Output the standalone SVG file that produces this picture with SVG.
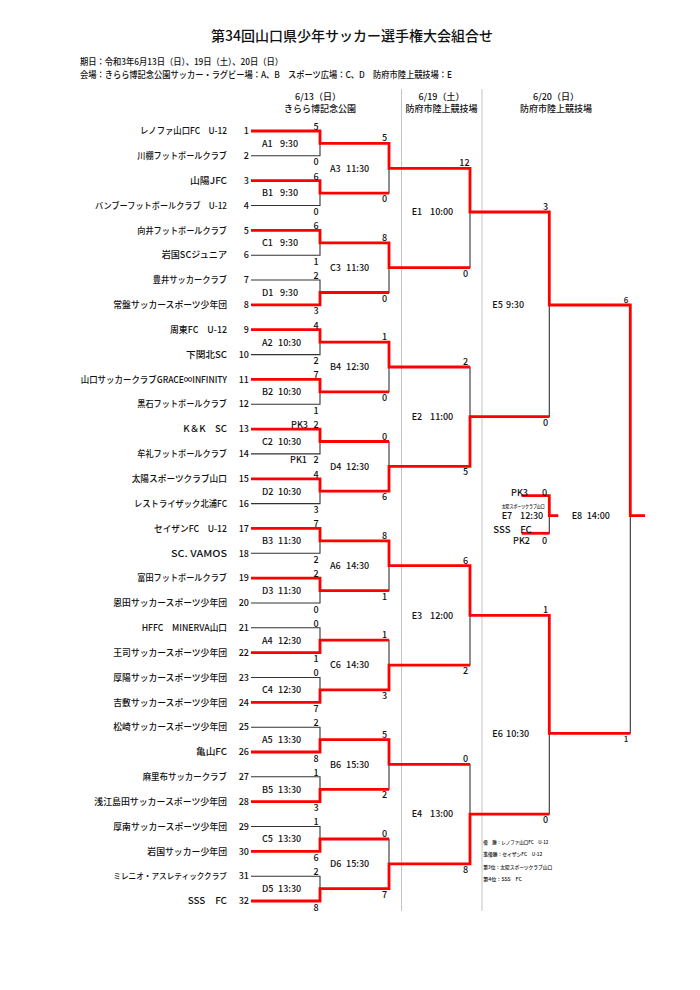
<svg xmlns="http://www.w3.org/2000/svg" width="700" height="990" viewBox="0 0 700 990">
<style>
text{font-family:"Noto Sans CJK JP","Liberation Sans",sans-serif;fill:#111;font-size:9px;font-weight:500}
.e{text-anchor:end}
.m{text-anchor:middle}
.bk{fill:none;stroke:#333;stroke-width:1.1}
.rd{fill:none;stroke:#ff0000;stroke-width:2.8;stroke-linejoin:miter}
.col{stroke:#c4c4c4;stroke-width:1}
.s8{font-size:8px}
.tiny{font-size:5px}
</style>
<rect width="700" height="990" fill="#fff"/>
<g id="header">
<text x="352" y="41" class="m" style="font-size:14px">第34回山口県少年サッカー選手権大会組合せ</text>
<text x="80" y="65.3" textLength="203" lengthAdjust="spacingAndGlyphs">期日：令和3年6月13日（日）、19日（土）、20日（日）</text>
<text x="80" y="78.3" textLength="372" lengthAdjust="spacingAndGlyphs">会場：きらら博記念公園サッカー・ラグビー場：A、B　スポーツ広場：C、D　防府市陸上競技場：E</text>
<text x="318" y="100" class="m">6/13（日）</text>
<text x="320" y="111.5" class="m">きらら博記念公園</text>
<text x="441.5" y="100" class="m">6/19（土）</text>
<text x="441.5" y="111.5" class="m">防府市陸上競技場</text>
<text x="556" y="100" class="m">6/20（日）</text>
<text x="556" y="111.5" class="m">防府市陸上競技場</text>
</g>
<g id="columns">
<line class="col" x1="401.5" y1="89" x2="401.5" y2="911"/>
<line class="col" x1="482" y1="89" x2="482" y2="911"/>
</g>
<g id="connectors">
<path class="bk" d="M251 131H320V155.8H251M251 180.7H320V205.5H251M251 230.4H320V255.2H251M251 280H320V304.9H251M251 329.7H320V354.6H251M251 379.4H320V404.2H251M251 429.1H320V453.9H251M251 478.8H320V503.6H251M251 528.4H320V553.3H251M251 578.1H320V603H251M251 627.8H320V652.6H251M251 677.5H320V702.3H251M251 727.2H320V752H251M251 776.8H320V801.7H251M251 826.5H320V851.4H251M251 876.2H320V901H251"/>
<path class="bk" d="M320 143.4H389V193.1H320M320 242.8H389V292.5H320M320 342.2H389V391.8H320M320 441.5H389V491.2H320M320 540.9H389V590.6H320M320 640.2H389V689.9H320M320 739.6H389V789.3H320M320 839H389V888.6H320"/>
<path class="bk" d="M389 168.3H470V267.7H389M389 367H470V466.4H389M389 565.7H470V665.1H389M389 764.4H470V863.8H389"/>
<path class="bk" d="M470 212H549.3V416.7H470M470 615.4H549.3V814.1H470"/>
<path class="bk" d="M549.3 305H630.3V733.3H549.3"/>
<path class="bk" d="M521.7 495.7H549.3V533.3H521.7"/>
<path class="rd" d="M251 131H320V143.4H389V168.3H470V212H549.3V305H630.3V515.7H645"/>
<path class="rd" d="M251 180.7H320V193.1H389"/>
<path class="rd" d="M251 230.4H320V242.8H389V267.7H470"/>
<path class="rd" d="M251 304.9H320V292.5H389"/>
<path class="rd" d="M251 329.7H320V342.2H389V367H470"/>
<path class="rd" d="M251 379.4H320V391.8H389"/>
<path class="rd" d="M251 429.1H320V441.5H389"/>
<path class="rd" d="M251 478.8H320V491.2H389V466.4H470V416.7H549.3"/>
<path class="rd" d="M251 528.4H320V540.9H389V565.7H470V615.4H549.3V733.3H630.3"/>
<path class="rd" d="M251 578.1H320V590.6H389"/>
<path class="rd" d="M251 652.6H320V640.2H389"/>
<path class="rd" d="M251 702.3H320V689.9H389V665.1H470"/>
<path class="rd" d="M251 752H320V739.6H389V764.4H470"/>
<path class="rd" d="M251 801.7H320V789.3H389"/>
<path class="rd" d="M251 851.4H320V839H389"/>
<path class="rd" d="M251 901H320V888.6H389V863.8H470V814.1H549.3"/>
<path class="rd" d="M521.7 495.7H549.3V515.7H558.3"/>
<path class="rd" d="M521.7 533.3H549.3"/>
</g>
<g id="team-01"><text class="e" x="227" y="134.2" textLength="87" lengthAdjust="spacingAndGlyphs">レノファ山口FC　U-12</text><text class="e" x="249" y="134.2">1</text></g>
<g id="team-02"><text class="e" x="227" y="159" textLength="89.7" lengthAdjust="spacingAndGlyphs">川棚フットボールクラブ</text><text class="e" x="249" y="159">2</text></g>
<g id="team-03"><text class="e" x="227" y="183.9" textLength="37" lengthAdjust="spacingAndGlyphs">山陽JFC</text><text class="e" x="249" y="183.9">3</text></g>
<g id="team-04"><text class="e" x="227" y="208.7" textLength="132" lengthAdjust="spacingAndGlyphs" style="font-size:8.6px">バンブーフットボールクラブ　U-12</text><text class="e" x="249" y="208.7">4</text></g>
<g id="team-05"><text class="e" x="227" y="233.6" textLength="89.7" lengthAdjust="spacingAndGlyphs">向井フットボールクラブ</text><text class="e" x="249" y="233.6">5</text></g>
<g id="team-06"><text class="e" x="227" y="258.4" textLength="65.3" lengthAdjust="spacingAndGlyphs">岩国SCジュニア</text><text class="e" x="249" y="258.4">6</text></g>
<g id="team-07"><text class="e" x="227" y="283.2" textLength="74.3" lengthAdjust="spacingAndGlyphs">豊井サッカークラブ</text><text class="e" x="249" y="283.2">7</text></g>
<g id="team-08"><text class="e" x="227" y="308.1" textLength="113.7" lengthAdjust="spacingAndGlyphs">常盤サッカースポーツ少年団</text><text class="e" x="249" y="308.1">8</text></g>
<g id="team-09"><text class="e" x="227" y="332.9" textLength="57" lengthAdjust="spacingAndGlyphs">周東FC　U-12</text><text class="e" x="249" y="332.9">9</text></g>
<g id="team-10"><text class="e" x="227" y="357.8" textLength="41" lengthAdjust="spacingAndGlyphs">下関北SC</text><text class="e" x="249" y="357.8">10</text></g>
<g id="team-11"><text class="e" x="227" y="382.6" textLength="146.3" lengthAdjust="spacingAndGlyphs">山口サッカークラブGRACE∞INFINITY</text><text class="e" x="249" y="382.6">11</text></g>
<g id="team-12"><text class="e" x="227" y="407.4" textLength="89.7" lengthAdjust="spacingAndGlyphs">黒石フットボールクラブ</text><text class="e" x="249" y="407.4">12</text></g>
<g id="team-13"><text class="e" x="227" y="432.3" textLength="43.7" lengthAdjust="spacingAndGlyphs">K＆K　SC</text><text class="e" x="249" y="432.3">13</text></g>
<g id="team-14"><text class="e" x="227" y="457.1" textLength="89.7" lengthAdjust="spacingAndGlyphs">牟礼フットボールクラブ</text><text class="e" x="249" y="457.1">14</text></g>
<g id="team-15"><text class="e" x="227" y="482" textLength="95.3" lengthAdjust="spacingAndGlyphs">太陽スポーツクラブ山口</text><text class="e" x="249" y="482">15</text></g>
<g id="team-16"><text class="e" x="227" y="506.8" textLength="93" lengthAdjust="spacingAndGlyphs">レストライザック北浦FC</text><text class="e" x="249" y="506.8">16</text></g>
<g id="team-17"><text class="e" x="227" y="531.6" textLength="73" lengthAdjust="spacingAndGlyphs">セイザンFC　U-12</text><text class="e" x="249" y="531.6">17</text></g>
<g id="team-18"><text class="e" x="227" y="556.5" textLength="56" lengthAdjust="spacingAndGlyphs">SC. VAMOS</text><text class="e" x="249" y="556.5">18</text></g>
<g id="team-19"><text class="e" x="227" y="581.3" textLength="89.7" lengthAdjust="spacingAndGlyphs">富田フットボールクラブ</text><text class="e" x="249" y="581.3">19</text></g>
<g id="team-20"><text class="e" x="227" y="606.2" textLength="113.7" lengthAdjust="spacingAndGlyphs">恩田サッカースポーツ少年団</text><text class="e" x="249" y="606.2">20</text></g>
<g id="team-21"><text class="e" x="227" y="631" textLength="85.3" lengthAdjust="spacingAndGlyphs">HFFC　MINERVA山口</text><text class="e" x="249" y="631">21</text></g>
<g id="team-22"><text class="e" x="227" y="655.8" textLength="113.7" lengthAdjust="spacingAndGlyphs">王司サッカースポーツ少年団</text><text class="e" x="249" y="655.8">22</text></g>
<g id="team-23"><text class="e" x="227" y="680.7" textLength="113.7" lengthAdjust="spacingAndGlyphs">厚陽サッカースポーツ少年団</text><text class="e" x="249" y="680.7">23</text></g>
<g id="team-24"><text class="e" x="227" y="705.5" textLength="113.7" lengthAdjust="spacingAndGlyphs">吉敷サッカースポーツ少年団</text><text class="e" x="249" y="705.5">24</text></g>
<g id="team-25"><text class="e" x="227" y="730.4" textLength="113.7" lengthAdjust="spacingAndGlyphs">松崎サッカースポーツ少年団</text><text class="e" x="249" y="730.4">25</text></g>
<g id="team-26"><text class="e" x="227" y="755.2" textLength="31" lengthAdjust="spacingAndGlyphs">亀山FC</text><text class="e" x="249" y="755.2">26</text></g>
<g id="team-27"><text class="e" x="227" y="780" textLength="84.3" lengthAdjust="spacingAndGlyphs">麻里布サッカークラブ</text><text class="e" x="249" y="780">27</text></g>
<g id="team-28"><text class="e" x="227" y="804.9" textLength="132.7" lengthAdjust="spacingAndGlyphs" style="font-size:8.8px">浅江島田サッカースポーツ少年団</text><text class="e" x="249" y="804.9">28</text></g>
<g id="team-29"><text class="e" x="227" y="829.7" textLength="113.7" lengthAdjust="spacingAndGlyphs">厚南サッカースポーツ少年団</text><text class="e" x="249" y="829.7">29</text></g>
<g id="team-30"><text class="e" x="227" y="854.6" textLength="79.7" lengthAdjust="spacingAndGlyphs">岩国サッカー少年団</text><text class="e" x="249" y="854.6">30</text></g>
<g id="team-31"><text class="e" x="227" y="879.4" textLength="113.7" lengthAdjust="spacingAndGlyphs" style="font-size:8.2px">ミレニオ・アスレティッククラブ</text><text class="e" x="249" y="879.4">31</text></g>
<g id="team-32"><text class="e" x="227" y="904.2" textLength="39.3" lengthAdjust="spacingAndGlyphs">SSS　FC</text><text class="e" x="249" y="904.2">32</text></g>
<g id="match-A1"><text x="262" y="146.7">A1 <tspan x="280">9:30</tspan></text><text class="m" x="316" y="129.8">5</text><text class="m" x="316" y="165.3">0</text></g>
<g id="match-B1"><text x="262" y="196.4">B1 <tspan x="280">9:30</tspan></text><text class="m" x="316" y="179.5">6</text><text class="m" x="316" y="215">0</text></g>
<g id="match-C1"><text x="262" y="246.1">C1 <tspan x="280">9:30</tspan></text><text class="m" x="316" y="229.2">6</text><text class="m" x="316" y="264.7">1</text></g>
<g id="match-D1"><text x="262" y="295.8">D1 <tspan x="280">9:30</tspan></text><text class="m" x="316" y="278.8">2</text><text class="m" x="316" y="314.4">3</text></g>
<g id="match-A2"><text x="262" y="345.5">A2 <tspan x="278">10:30</tspan></text><text class="m" x="316" y="328.5">4</text><text class="m" x="316" y="364.1">2</text></g>
<g id="match-B2"><text x="262" y="395.1">B2 <tspan x="278">10:30</tspan></text><text class="m" x="316" y="378.2">7</text><text class="m" x="316" y="413.7">1</text></g>
<g id="match-C2"><text x="262" y="444.8">C2 <tspan x="278">10:30</tspan></text><text class="e" x="308" y="427.9">PK3</text><text class="m" x="316" y="427.9">2</text><text class="e" x="307" y="463.4">PK1</text><text class="m" x="316" y="463.4">2</text></g>
<g id="match-D2"><text x="262" y="494.5">D2 <tspan x="278">10:30</tspan></text><text class="m" x="316" y="477.6">4</text><text class="m" x="316" y="513.1">3</text></g>
<g id="match-B3"><text x="262" y="544.2">B3 <tspan x="278">11:30</tspan></text><text class="m" x="316" y="527.2">7</text><text class="m" x="316" y="562.8">2</text></g>
<g id="match-D3"><text x="262" y="593.9">D3 <tspan x="278">11:30</tspan></text><text class="m" x="316" y="576.9">2</text><text class="m" x="316" y="612.5">0</text></g>
<g id="match-A4"><text x="262" y="643.5">A4 <tspan x="278">12:30</tspan></text><text class="m" x="316" y="626.6">0</text><text class="m" x="316" y="662.1">1</text></g>
<g id="match-C4"><text x="262" y="693.2">C4 <tspan x="278">12:30</tspan></text><text class="m" x="316" y="676.3">0</text><text class="m" x="316" y="711.8">7</text></g>
<g id="match-A5"><text x="262" y="742.9">A5 <tspan x="278">13:30</tspan></text><text class="m" x="316" y="726">2</text><text class="m" x="316" y="761.5">8</text></g>
<g id="match-B5"><text x="262" y="792.6">B5 <tspan x="278">13:30</tspan></text><text class="m" x="316" y="775.6">1</text><text class="m" x="316" y="811.2">3</text></g>
<g id="match-C5"><text x="262" y="842.3">C5 <tspan x="278">13:30</tspan></text><text class="m" x="316" y="825.3">1</text><text class="m" x="316" y="860.9">6</text></g>
<g id="match-D5"><text x="262" y="891.9">D5 <tspan x="278">13:30</tspan></text><text class="m" x="316" y="875">2</text><text class="m" x="316" y="910.5">8</text></g>
<g id="match-A3"><text x="330" y="171.6">A3 <tspan x="346">11:30</tspan></text><text class="m" x="384.5" y="141.4">5</text><text class="m" x="384.5" y="202.1">0</text></g>
<g id="match-C3"><text x="330" y="271">C3 <tspan x="346">11:30</tspan></text><text class="m" x="384.5" y="240.8">8</text><text class="m" x="384.5" y="301.5">0</text></g>
<g id="match-B4"><text x="330" y="370.3">B4 <tspan x="346">12:30</tspan></text><text class="m" x="384.5" y="340.2">1</text><text class="m" x="384.5" y="400.8">0</text></g>
<g id="match-D4"><text x="330" y="469.7">D4 <tspan x="346">12:30</tspan></text><text class="m" x="384.5" y="439.5">0</text><text class="m" x="384.5" y="500.2">6</text></g>
<g id="match-A6"><text x="330" y="569">A6 <tspan x="346">14:30</tspan></text><text class="m" x="384.5" y="538.9">8</text><text class="m" x="384.5" y="599.6">1</text></g>
<g id="match-C6"><text x="330" y="668.4">C6 <tspan x="346">14:30</tspan></text><text class="m" x="384.5" y="638.2">1</text><text class="m" x="384.5" y="698.9">3</text></g>
<g id="match-B6"><text x="330" y="767.7">B6 <tspan x="346">15:30</tspan></text><text class="m" x="384.5" y="737.6">5</text><text class="m" x="384.5" y="798.3">2</text></g>
<g id="match-D6"><text x="330" y="867.1">D6 <tspan x="346">15:30</tspan></text><text class="m" x="384.5" y="837">0</text><text class="m" x="384.5" y="897.6">7</text></g>
<g id="match-E1"><text x="411.7" y="215.3">E1 <tspan x="430">10:00</tspan></text><text class="m" x="464.5" y="166.3">12</text><text class="m" x="465.5" y="276.7">0</text></g>
<g id="match-E2"><text x="411.7" y="420">E2 <tspan x="430">11:00</tspan></text><text class="m" x="465.5" y="365">2</text><text class="m" x="465.5" y="475.4">5</text></g>
<g id="match-E3"><text x="411.7" y="618.7">E3 <tspan x="430">12:00</tspan></text><text class="m" x="465.5" y="563.7">6</text><text class="m" x="465.5" y="674.1">2</text></g>
<g id="match-E4"><text x="411.7" y="817.4">E4 <tspan x="430">13:00</tspan></text><text class="m" x="465.5" y="762.4">0</text><text class="m" x="465.5" y="872.8">8</text></g>
<g id="match-E5"><text x="492.3" y="308.3">E5 <tspan x="506">9:30</tspan></text><text class="m" x="545.5" y="210">3</text><text class="m" x="545.5" y="425.7">0</text></g>
<g id="match-E6"><text x="492.3" y="736.6">E6 <tspan x="506">10:30</tspan></text><text class="m" x="545.5" y="613.4">1</text><text class="m" x="545.5" y="823.1">0</text></g>
<g id="match-E7"><text class="e" x="528" y="495.5">PK3</text><text class="m" x="544.5" y="495.5">0</text><text class="tiny" x="501.7" y="507.5" textLength="43" lengthAdjust="spacingAndGlyphs">太陽スポーツクラブ山口</text><text x="501.7" y="519">E7 <tspan x="520">12:30</tspan></text><text x="493.3" y="532.6" textLength="38.4" lengthAdjust="spacingAndGlyphs">SSS　FC</text><text class="e" x="530" y="544">PK2</text><text class="m" x="544.5" y="544">0</text></g>
<g id="match-E8"><text x="571.7" y="519">E8 <tspan x="586.7">14:00</tspan></text><text class="m s8" x="626" y="303">6</text><text class="m s8" x="626" y="742.3">1</text></g>
<g id="results">
<text class="tiny" x="483.3" y="843.5" textLength="65" lengthAdjust="spacingAndGlyphs">優　勝：レノファ山口FC　U-12</text>
<text class="tiny" x="483.3" y="856" textLength="59" lengthAdjust="spacingAndGlyphs">準優勝：セイザンFC　U-12</text>
<text class="tiny" x="483.3" y="868.5" textLength="69" lengthAdjust="spacingAndGlyphs">第3位：太陽スポーツクラブ山口</text>
<text class="tiny" x="483.3" y="881" textLength="38.4" lengthAdjust="spacingAndGlyphs">第4位：SSS　FC</text>
</g>
</svg>
